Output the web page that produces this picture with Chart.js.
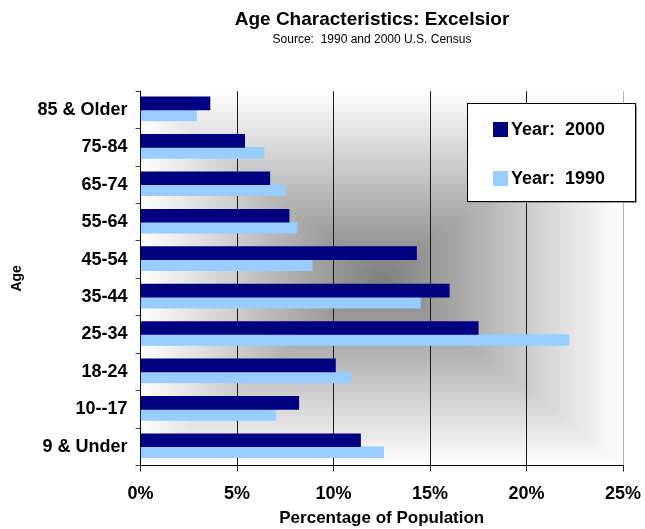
<!DOCTYPE html>
<html>
<head>
<meta charset="utf-8">
<title>Age Characteristics: Excelsior</title>
<script src="https://cdn.jsdelivr.net/npm/chart.js@4"></script>
<style>
    html, body { margin: 0; padding: 0; background: #fff; }
</style>
</head>
<body>
<canvas id="ageChart" width="645" height="529"></canvas>
<script>
// data (percent of population)
const ageGroups = ["85 & Older", "75-84", "65-74", "55-64", "45-54", "35-44", "25-34", "18-24", "10--17", "9 & Under"];
const year2000 = [3.6, 5.4, 6.7, 7.7, 14.3, 16.0, 17.5, 10.1, 8.2, 11.4];
const year1990 = [2.9, 6.4, 7.5, 8.1, 8.9, 14.5, 22.2, 10.9, 7.0, 12.6];
const seriesNames = ["Year:  2000", "Year:  1990"];
const pctTicks = [0, 5, 10, 15, 20, 25];

const FONT = '"Liberation Sans", Arial, sans-serif';

// gray "from center" gradient behind the bars
const plotBackground = {
    id: "plotBackground",
    beforeDraw(chart) {
        const ctx = chart.ctx;
        const a = chart.chartArea;
        const cx = (a.left + a.right) / 2;
        const cy = (a.top + a.bottom) / 2;
        const parts = [
            [[a.left, a.top], [a.right, a.top], [cx, a.top]],
            [[a.right, a.top], [a.right, a.bottom], [a.right, cy]],
            [[a.right, a.bottom], [a.left, a.bottom], [cx, a.bottom]],
            [[a.left, a.bottom], [a.left, a.top], [a.left, cy]]
        ];
        ctx.save();
        parts.forEach(([p1, p2, edge]) => {
            const g = ctx.createLinearGradient(cx, cy, edge[0], edge[1]);
            g.addColorStop(0, "#7f7f7f");
            g.addColorStop(1, "#ffffff");
            ctx.beginPath();
            ctx.moveTo(cx, cy);
            ctx.lineTo(p1[0], p1[1]);
            ctx.lineTo(p2[0], p2[1]);
            ctx.closePath();
            ctx.fillStyle = g;
            ctx.fill();
            ctx.strokeStyle = g;
            ctx.lineWidth = 0.6;
            ctx.stroke();
        });
        ctx.restore();
    }
};

// titles sit a bit right of the canvas centre
const titleShift = {
    id: "titleShift",
    afterLayout(chart) {
        chart.boxes.forEach(b => {
            if (b.options && typeof b.options.text === "string" && b.position === "top") {
                b.left = 99;
                b.right = 645;
                b.width = 546;
            }
        });
    }
};

// boxed legend inside the plot, top right
const boxLegend = {
    id: "boxLegend",
    afterDraw(chart) {
        const ctx = chart.ctx;
        const x = 467, y = 103, w = 168, h = 98;
        ctx.save();
        ctx.fillStyle = "#9a9a9a";
        ctx.fillRect(x + 2, y + 2, w, h);
        ctx.fillStyle = "#fff";
        ctx.fillRect(x, y, w, h);
        ctx.strokeStyle = "#000";
        ctx.lineWidth = 1;
        ctx.strokeRect(x + 0.5, y + 0.5, w, h);
        ctx.font = "bold 18px " + FONT;
        ctx.textBaseline = "middle";
        ctx.textAlign = "left";
        chart.data.datasets.forEach((ds, i) => {
            const rowY = y + 26 + i * 49;
            ctx.fillStyle = ds.backgroundColor;
            ctx.fillRect(x + 26, rowY - 7, 15, 15);
            ctx.fillStyle = "#000";
            ctx.fillText(ds.label, x + 44, rowY + 1);
        });
        ctx.restore();
    }
};

new Chart(document.getElementById("ageChart"), {
    type: "bar",
    data: {
        labels: ageGroups,
        datasets: [
            {
                label: seriesNames[0],
                data: year2000,
                backgroundColor: "#000080",
                barThickness: 13
            },
            {
                label: seriesNames[1],
                data: year1990,
                backgroundColor: "#99ccff",
                barThickness: 11
            }
        ]
    },
    options: {
        indexAxis: "y",
        responsive: false,
        animation: false,
        devicePixelRatio: 1,
        layout: { padding: { left: 0, right: 22, top: 0, bottom: 0 } },
        plugins: {
            legend: { display: false },
            tooltip: { enabled: false },
            title: {
                display: true,
                text: "Age Characteristics: Excelsior",
                color: "#000",
                font: { family: FONT, size: 19, weight: "bold" },
                padding: { top: 8, bottom: 2 }
            },
            subtitle: {
                display: true,
                text: "Source:  1990 and 2000 U.S. Census",
                color: "#000",
                font: { family: FONT, size: 12 },
                padding: { top: 0, bottom: 44 }
            }
        },
        scales: {
            x: {
                min: 0,
                max: 25,
                afterFit(s) {
                    s.height = 63.5;
                    s.paddingLeft = 0;
                    s.paddingRight = 0;
                },
                afterBuildTicks(s) { s.ticks = pctTicks.map(v => ({ value: v })); },
                ticks: {
                    callback: v => v + "%",
                    color: "#000",
                    font: { family: FONT, size: 18, weight: "bold" },
                    padding: 12,
                    maxRotation: 0,
                    autoSkip: false
                },
                grid: {
                    color: c => (c.tick && c.tick.value === 25) ? "#b5b5b5" : "#1a1a1a",
                    tickColor: "#1a1a1a",
                    tickLength: 6,
                    lineWidth: 1
                },
                border: { color: "#000", width: 1 },
                title: {
                    display: true,
                    text: "Percentage of Population",
                    color: "#000",
                    font: { family: FONT, size: 17, weight: "bold" },
                    padding: { top: 0, bottom: 0 }
                }
            },
            y: {
                afterFit(s) { s.width = 140.5; },
                ticks: {
                    color: "#000",
                    font: { family: FONT, size: 18, weight: "bold" },
                    padding: 8,
                    autoSkip: false
                },
                grid: {
                    offset: true,
                    drawOnChartArea: false,
                    tickLength: 5,
                    color: "#444"
                },
                border: { color: "#000", width: 1 },
                title: {
                    display: true,
                    text: "Age",
                    color: "#000",
                    font: { family: FONT, size: 14, weight: "bold" },
                    padding: { top: 9, bottom: 0 }
                }
            }
        }
    },
    plugins: [plotBackground, titleShift, boxLegend]
});
</script>
</body>
</html>
